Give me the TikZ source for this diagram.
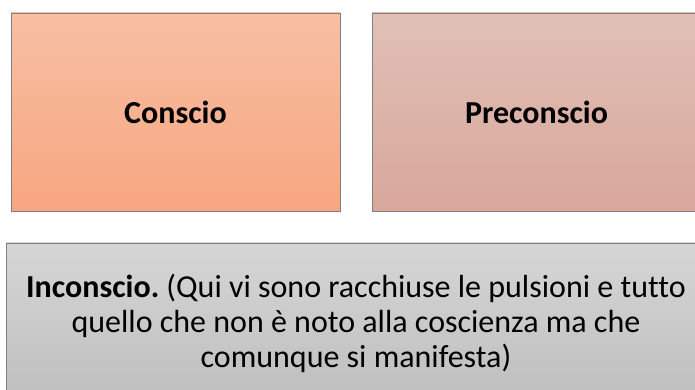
\documentclass[tikz,border=0pt]{standalone}
\usepackage{fontspec}
\setmainfont{Carlito}[Ligatures=NoCommon]
\frenchspacing
\definecolor{orangetop}{HTML}{F7BFA3}
\definecolor{orangebot}{HTML}{F7A680}
\definecolor{rosetop}{HTML}{E0C0B6}
\definecolor{rosebot}{HTML}{D9A79C}
\definecolor{greytop}{HTML}{D6D6D6}
\definecolor{greybot}{HTML}{BEBEBE}
\definecolor{edgegrey}{HTML}{808080}
\tikzset{
	livello/.style={draw=edgegrey, line width=0.8pt, rectangle, inner sep=0pt, font=\fontsize{32}{38}\selectfont\bfseries},
}
\begin{document}
\begin{tikzpicture}[x=1pt, y=1pt]
	\useasboundingbox (0, 0) rectangle (695, 390);
	\clip (0, 0) rectangle (695, 390);
		\node [livello, top color=orangetop, bottom color=orangebot, minimum width=329pt, minimum height=198pt] (conscio) at (175.5, 278) {Conscio};
		\node [livello, top color=rosetop, bottom color=rosebot, minimum width=329pt, minimum height=198pt] (preconscio) at (536.5, 278) {Preconscio};
		\node [livello, top color=greytop, bottom color=greybot, minimum width=700pt, minimum height=160pt, align=center, font=\fontsize{32}{35}\selectfont] (inconscio) at (356, 67) {\textbf{Inconscio.} (Qui vi sono racchiuse le pulsioni e tutto\\quello che non è noto alla coscienza ma che\\comunque si manifesta)};
	\end{tikzpicture}
\end{document}
